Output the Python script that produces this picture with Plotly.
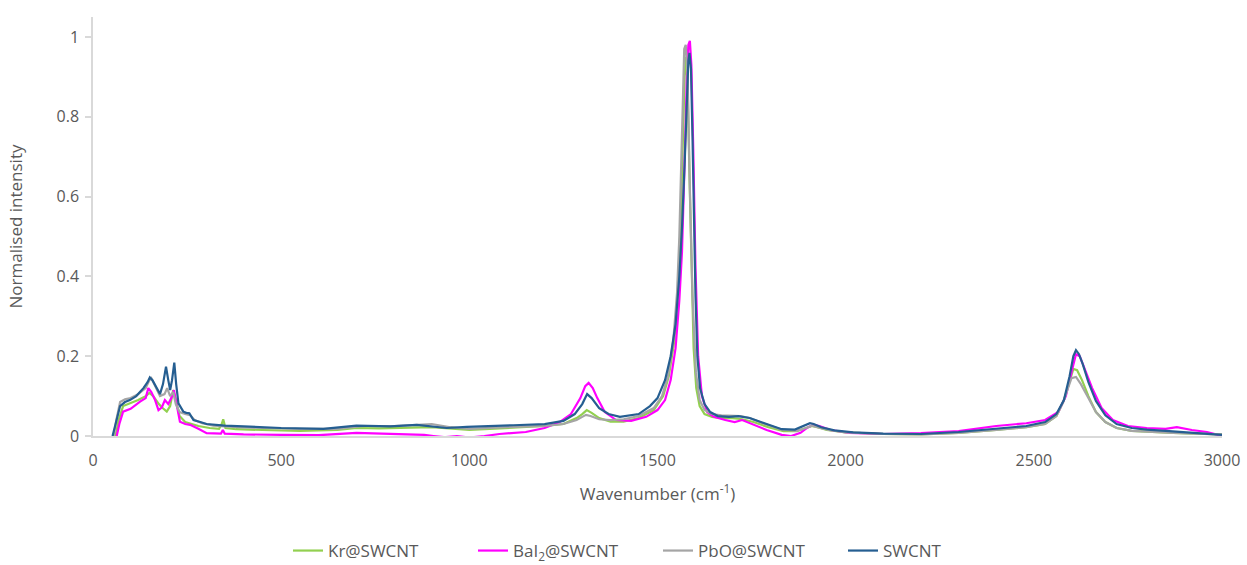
import plotly.graph_objects as go

# ---------------- data ----------------
kr_x = [60, 68, 80, 100, 120, 140, 150, 160, 175, 185, 196, 205, 213, 220, 230, 245, 260, 280, 310, 335, 342, 346, 352, 380,
        450, 550, 650, 700, 760, 850, 900, 1000, 1060, 1120, 1200, 1250, 1285, 1300, 1312, 1325, 1345, 1375, 1410, 1450,
        1490, 1515, 1530, 1545, 1555, 1562, 1568, 1572, 1576, 1580, 1585, 1590, 1596, 1603, 1612, 1625, 1645, 1670, 1700,
        1725, 1755, 1795, 1835, 1870, 1895, 1910, 1925, 1950, 2000, 2100, 2200, 2300, 2400, 2480, 2530, 2560, 2580, 2592,
        2605, 2615, 2628, 2645, 2665, 2690, 2720, 2760, 2810, 2870, 2930, 3000]
kr_y = [0.0, 0.04, 0.075, 0.082, 0.09, 0.1, 0.108, 0.1, 0.08, 0.07, 0.061, 0.075, 0.115, 0.09, 0.05, 0.035, 0.03, 0.025, 0.02,
        0.018, 0.03, 0.042, 0.02, 0.017, 0.015, 0.013, 0.015, 0.02, 0.019, 0.02, 0.022, 0.015, 0.018, 0.02, 0.025, 0.03,
        0.045, 0.055, 0.065, 0.058, 0.045, 0.036, 0.036, 0.045, 0.065, 0.1, 0.15, 0.24, 0.38, 0.55, 0.75, 0.9, 0.95, 0.88,
        0.65, 0.42, 0.22, 0.12, 0.075, 0.055, 0.048, 0.045, 0.045, 0.042, 0.035, 0.022, 0.012, 0.012, 0.02, 0.025, 0.022,
        0.015, 0.009, 0.005, 0.004, 0.008, 0.015, 0.022, 0.03, 0.05, 0.09, 0.13, 0.168, 0.165, 0.14, 0.1, 0.06, 0.035,
        0.02, 0.013, 0.01, 0.008, 0.006, 0.004]

bai_x = [63, 70, 80, 100, 125, 140, 147, 155, 165, 174, 183, 191, 200, 208, 215, 222, 231, 245, 258, 280, 302, 340, 345,
         350, 400, 500, 600, 700, 760, 820, 880, 905, 935, 967, 1000, 1040, 1080, 1150, 1200, 1240, 1270, 1295, 1308,
         1317, 1328, 1340, 1360, 1390, 1430, 1470, 1500, 1520, 1535, 1548, 1558, 1565, 1570, 1574, 1578, 1582, 1586,
         1590, 1595, 1601, 1608, 1618, 1632, 1650, 1680, 1705, 1725, 1750, 1790, 1830, 1855, 1880, 1900, 1915, 1930,
         1960, 2010, 2100, 2200, 2300, 2400, 2480, 2530, 2565, 2585, 2600, 2612, 2622, 2635, 2655, 2680, 2710, 2750,
         2800, 2850, 2880, 2920, 2960, 3000]
bai_y = [0.0, 0.03, 0.061, 0.068, 0.086, 0.095, 0.12, 0.11, 0.09, 0.065, 0.072, 0.09, 0.08, 0.095, 0.115, 0.08, 0.036,
         0.03, 0.028, 0.018, 0.007, 0.006, 0.015, 0.006, 0.004, 0.003, 0.002, 0.008, 0.006, 0.004, 0.003, 0.0, -0.003,
         0.0, -0.004, 0.0, 0.005, 0.01, 0.02, 0.035, 0.055, 0.095, 0.125, 0.133, 0.12, 0.095, 0.06, 0.04, 0.038, 0.048,
         0.065, 0.09, 0.14, 0.22, 0.34, 0.46, 0.6, 0.75, 0.9, 0.98, 0.99, 0.93, 0.72, 0.42, 0.2, 0.1, 0.06, 0.048, 0.04,
         0.035, 0.04, 0.03, 0.015, 0.003, 0.0, 0.008, 0.022, 0.028, 0.025, 0.015, 0.008, 0.005, 0.007, 0.012, 0.025,
         0.032, 0.04, 0.06, 0.1, 0.16, 0.205, 0.2, 0.17, 0.12, 0.07, 0.04, 0.025, 0.02, 0.018, 0.022, 0.015, 0.01, 0.0]

pbo_x = [55, 62, 72, 85, 100, 120, 140, 150, 155, 165, 178, 190, 197, 205, 213, 220, 230, 245, 258, 270, 290, 320, 380,
         450, 550, 650, 720, 800, 900, 950, 1000, 1100, 1200, 1250, 1285, 1300, 1310, 1322, 1345, 1375, 1410, 1450,
         1490, 1512, 1528, 1542, 1552, 1558, 1563, 1567, 1571, 1575, 1580, 1586, 1593, 1602, 1612, 1625, 1645, 1670,
         1700, 1720, 1745, 1785, 1830, 1870, 1895, 1910, 1925, 1955, 2000, 2100, 2200, 2300, 2400, 2480, 2530, 2560,
         2578, 2590, 2600, 2612, 2625, 2645, 2665, 2690, 2720, 2760, 2810, 2870, 2930, 3000]
pbo_y = [0.0, 0.04, 0.085, 0.092, 0.095, 0.105, 0.12, 0.14, 0.145, 0.125, 0.1, 0.105, 0.12, 0.1, 0.11, 0.08, 0.06, 0.055,
         0.052, 0.04, 0.032, 0.026, 0.022, 0.02, 0.018, 0.018, 0.025, 0.025, 0.03, 0.022, 0.018, 0.022, 0.025, 0.03,
         0.04, 0.048, 0.053, 0.05, 0.042, 0.04, 0.042, 0.05, 0.07, 0.1, 0.15, 0.24, 0.36, 0.5, 0.68, 0.86, 0.97, 0.98,
         0.9, 0.62, 0.35, 0.16, 0.09, 0.065, 0.055, 0.052, 0.05, 0.05, 0.045, 0.03, 0.016, 0.013, 0.02, 0.026, 0.022,
         0.015, 0.009, 0.005, 0.004, 0.008, 0.015, 0.022, 0.03, 0.05, 0.085, 0.12, 0.145, 0.148, 0.13, 0.095, 0.06,
         0.035, 0.02, 0.013, 0.01, 0.008, 0.006, 0.004]

swcnt_x = [52, 60, 72, 85, 98, 115, 134, 145, 151, 158, 165, 178, 186, 194, 200, 205, 210, 216, 221, 227, 240, 248, 256,
           267, 285, 302, 350, 435, 500, 612, 700, 790, 860, 940, 993, 1117, 1200, 1250, 1280, 1300, 1313, 1325, 1345,
           1370, 1400, 1450, 1480, 1500, 1520, 1535, 1548, 1558, 1565, 1572, 1578, 1582, 1585, 1589, 1593, 1597, 1601,
           1606, 1613, 1625, 1640, 1660, 1690, 1715, 1745, 1790, 1830, 1865, 1890, 1905, 1915, 1935, 1970, 2020, 2100,
           2200, 2300, 2400, 2480, 2530, 2560, 2580, 2595, 2605, 2612, 2620, 2630, 2645, 2665, 2690, 2720, 2760, 2800,
           2850, 2900, 2950, 3000]
swcnt_y = [0.0, 0.03, 0.075, 0.085, 0.09, 0.1, 0.12, 0.135, 0.147, 0.14, 0.128, 0.105, 0.13, 0.174, 0.14, 0.115, 0.14,
           0.184, 0.13, 0.082, 0.061, 0.058, 0.057, 0.04, 0.035, 0.03, 0.026, 0.022, 0.02, 0.018, 0.026, 0.024, 0.028,
           0.02, 0.023, 0.027, 0.03, 0.038, 0.055, 0.08, 0.105, 0.095, 0.07, 0.055, 0.048, 0.055, 0.075, 0.095, 0.14,
           0.2, 0.28, 0.4, 0.52, 0.68, 0.85, 0.94, 0.96, 0.92, 0.75, 0.55, 0.35, 0.2, 0.12, 0.08, 0.06, 0.05, 0.048,
           0.05, 0.045, 0.03, 0.017, 0.016, 0.025, 0.032, 0.03, 0.022, 0.014, 0.009, 0.006, 0.005, 0.01, 0.018, 0.025,
           0.035, 0.055, 0.09, 0.15, 0.2, 0.215, 0.205, 0.18, 0.135, 0.088, 0.052, 0.03, 0.02, 0.016, 0.013, 0.01,
           0.006, 0.003]

series_names = ["Kr@SWCNT", "BaI<sub>2</sub>@SWCNT", "PbO@SWCNT", "SWCNT"]
series_x = [kr_x, bai_x, pbo_x, swcnt_x]
series_y = [kr_y, bai_y, pbo_y, swcnt_y]
series_colors = ["#92D050", "#FF00FF", "#A5A5A5", "#255E91"]

x_ticks = [0, 500, 1000, 1500, 2000, 2500, 3000]
y_ticks = [0, 0.2, 0.4, 0.6, 0.8, 1]
y_tick_labels = ["0", "0.2", "0.4", "0.6", "0.8", "1"]

# ---------------- figure ----------------
FONT = "Open Sans"
TXT = "#595959"
AX = "#D9D9D9"

fig = go.Figure()
for name, xs, ys, col in zip(series_names, series_x, series_y, series_colors):
    fig.add_trace(go.Scatter(x=xs, y=ys, mode="lines", name=name,
                             line=dict(color=col, width=2.2)))

fig.update_layout(
    width=1247, height=565,
    margin=dict(l=93, r=25, t=17, b=129, autoexpand=False),
    paper_bgcolor="white", plot_bgcolor="white",
    font=dict(family=FONT, size=16, color=TXT),
    showlegend=True,
    legend=dict(orientation="h", xref="container", x=658 / 1247, xanchor="center",
                yref="container", y=(565 - 551) / 565, yanchor="middle",
                font=dict(family=FONT, size=17, color=TXT),
                entrywidth=140, entrywidthmode="pixels",
                tracegroupgap=0),
    xaxis=dict(range=[0, 3000], tickvals=x_ticks, showgrid=False, zeroline=False,
               showline=True, linecolor=AX, linewidth=1.5, ticks="",
               ticklabelstandoff=9,
               tickfont=dict(family=FONT, size=16, color=TXT),
               title=dict(text="Wavenumber (cm<sup>-1</sup>)", standoff=18,
                          font=dict(family=FONT, size=17, color=TXT))),
    yaxis=dict(range=[0, 1.05], tickvals=y_ticks, ticktext=y_tick_labels, showgrid=False,
               zeroline=False, showline=True, linecolor=AX, linewidth=1.5,
               ticks="outside", ticklen=6, tickcolor=AX, tickwidth=1.5,
               ticklabelstandoff=3,
               tickfont=dict(family=FONT, size=16, color=TXT),
               title=dict(text="Normalised intensity", standoff=30,
                          font=dict(family=FONT, size=17, color=TXT))),
)

fig.write_html("out.html")
